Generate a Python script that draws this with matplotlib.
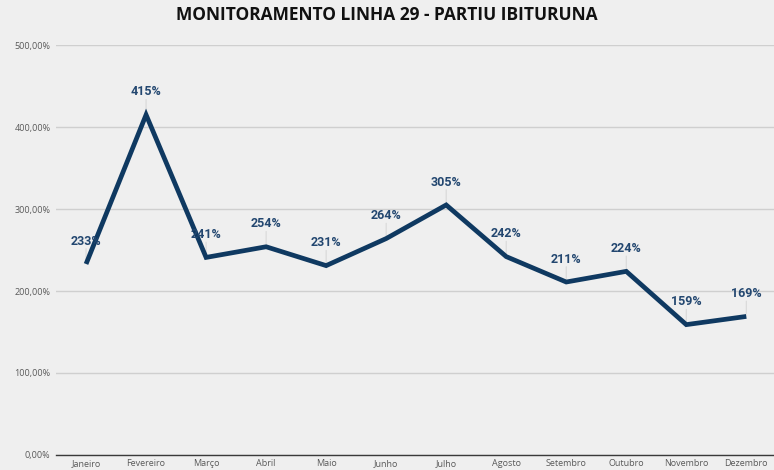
import matplotlib
matplotlib.use("Agg")
import matplotlib.pyplot as plt
from matplotlib.ticker import FuncFormatter

months = ["Janeiro", "Fevereiro", "Março", "Abril", "Maio", "Junho", "Julho",
          "Agosto", "Setembro", "Outubro", "Novembro", "Dezembro"]
values = [233, 415, 241, 254, 231, 264, 305, 242, 211, 224, 159, 169]
y_ticks = [0, 100, 200, 300, 400, 500]

bg = "#EFEFEF"
line_color = "#0F3961"
label_color = "#234770"

fig = plt.figure(figsize=(7.74, 4.70), dpi=100, facecolor=bg)
ax = fig.add_axes([0.0724, 0.032, 0.9306, 0.872], facecolor=bg)

x = list(range(len(months)))
ax.plot(x, values, color=line_color, linewidth=3.4, solid_joinstyle="miter",
        solid_capstyle="butt", zorder=3)

for xi, v in zip(x, values):
    ax.annotate("", xy=(xi, v), xytext=(0, 11), textcoords="offset points",
                arrowprops=dict(arrowstyle="-", color="#D8D8D8", lw=0.8,
                                shrinkA=0, shrinkB=2), zorder=2)
    ax.annotate(f"{v}%", xy=(xi, v), xytext=(0, 16.5), textcoords="offset points",
                ha="center", va="center", fontsize=9, fontweight="bold",
                color=label_color, family="Roboto", zorder=4)

ax.set_xlim(-0.5, len(months) - 0.5)
ax.set_ylim(0, 500)
ax.set_yticks(y_ticks)
ax.yaxis.set_major_formatter(FuncFormatter(lambda v, _: f"{v:.2f}%".replace(".", ",")))
ax.set_xticks(x)
ax.set_xticklabels(months)
ax.grid(axis="y", color="#CFCFCF", linewidth=1.0, zorder=0)
ax.set_axisbelow(True)

for side in ["top", "right", "left"]:
    ax.spines[side].set_visible(False)
ax.spines["bottom"].set_color("#3A3A3A")
ax.spines["bottom"].set_linewidth(1.0)
ax.tick_params(axis="both", length=0, labelsize=6.5, labelcolor="#595959")
ax.tick_params(axis="x", pad=3)
ax.tick_params(axis="y", pad=4)
for lbl in ax.get_xticklabels() + ax.get_yticklabels():
    lbl.set_family("Open Sans")

fig.text(0.5, 0.968, "MONITORAMENTO LINHA 29 - PARTIU IBITURUNA", ha="center",
         va="center", fontsize=12.5, fontweight="bold", color="#111111",
         family="Open Sans")

fig.savefig("out.png", dpi=100, facecolor=bg)
